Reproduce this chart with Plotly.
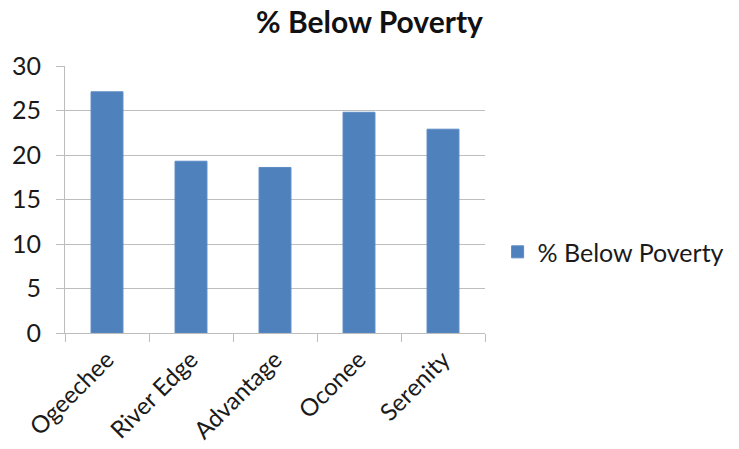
import plotly.graph_objects as go

categories = ["Ogeechee", "River Edge", "Advantage", "Oconee", "Serenity"]
values = [27.1, 19.3, 18.6, 24.8, 22.9]
series_name = "% Below Poverty"
y_ticks = [0, 5, 10, 15, 20, 25, 30]

FONT = "Lato"

fig = go.Figure()
fig.add_trace(go.Bar(
    x=categories, y=values, name=series_name,
    marker=dict(color="#4f81bd", line=dict(color="#5a8ac4", width=1)),
    showlegend=True,
))

fig.update_layout(
    width=739, height=449,
    margin=dict(l=65, r=254, t=66, b=116, autoexpand=False),
    paper_bgcolor="white", plot_bgcolor="white",
    bargap=0.62,
    font=dict(family=FONT, color="#1a1a1a"),
    title=dict(text="<b>% Below Poverty</b>", x=0.5, xanchor="center",
               y=1 - 22 / 449, yanchor="middle",
               font=dict(family=FONT, size=30, color="#111111")),
    legend=dict(x=1.03, y=0.303, xanchor="left", yanchor="middle",
                font=dict(family=FONT, size=25, color="#1a1a1a"),
                bgcolor="rgba(0,0,0,0)", itemwidth=30),
)

fig.update_xaxes(
    type="category", tickson="boundaries", ticks="outside", ticklen=8,
    tickcolor="#bdbdbd", showline=True, linecolor="#bdbdbd", linewidth=1,
    tickangle=-45, tickfont=dict(family=FONT, size=24, color="#1a1a1a"),
    showgrid=False, automargin=False, ticklabelstandoff=2,
)
fig.update_yaxes(
    range=[0, 30], tickvals=y_ticks, ticks="outside", ticklen=8,
    tickcolor="#bdbdbd", showline=True, linecolor="#bdbdbd", linewidth=1,
    showgrid=True, gridcolor="#bdbdbd", gridwidth=1,
    tickfont=dict(family=FONT, size=25, color="#1a1a1a"), zeroline=False,
    automargin=False, ticklabelstandoff=10,
)

fig.write_html("out.html")
